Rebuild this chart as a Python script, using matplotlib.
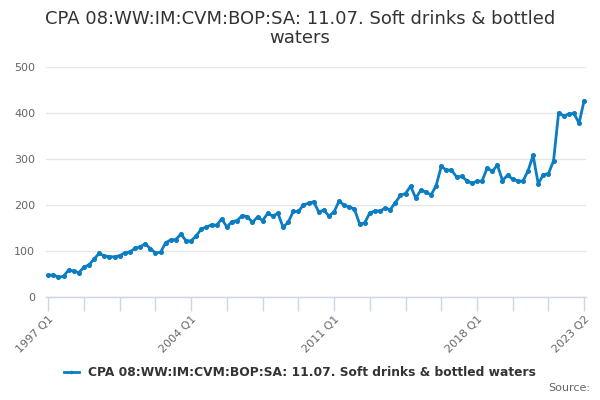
import numpy as np
import matplotlib
matplotlib.use('Agg')
import matplotlib.pyplot as plt

# quarterly values, 1997 Q1 .. 2023 Q2
values = [47, 48, 43, 45, 59, 56, 53, 65, 70, 83,
          95, 89, 88, 87, 90, 96, 98, 106, 109, 116,
          105, 96, 97, 118, 124, 125, 137, 122, 122, 133,
          148, 152, 157, 156, 170, 152, 164, 166, 177, 175,
          162, 174, 166, 182, 176, 182, 152, 162, 186, 186,
          200, 204, 207, 185, 189, 176, 185, 209, 199, 196,
          191, 159, 161, 183, 187, 187, 193, 190, 205, 221,
          225, 241, 215, 232, 228, 222, 242, 284, 276, 276,
          261, 262, 253, 247, 252, 252, 281, 273, 287, 253,
          265, 256, 252, 252, 274, 308, 246, 266, 268, 296,
          401, 393, 398, 399, 378, 427]

quarters = [f"{1997 + i // 4} Q{i % 4 + 1}" for i in range(len(values))]
label_idx = [0, 28, 56, 84, 105]
tick_idx = list(range(0, 105, 7)) + [105]
y_ticks = [0, 100, 200, 300, 400, 500]

series_name = 'CPA 08:WW:IM:CVM:BOP:SA: 11.07. Soft drinks & bottled waters'
line_color = '#0b7dc2'

fig = plt.figure(figsize=(6, 4), dpi=100)
ax = fig.add_axes([0.077, 0.2575, 0.9, 0.575])

x = np.arange(len(values))
ax.plot(x, values, color=line_color, linewidth=2, marker='o', markersize=2.6,
        label=series_name, zorder=3)

ax.set_xlim(-0.4, 105.4)
ax.set_ylim(0, 500)
ax.set_yticks(y_ticks)
ax.set_yticklabels([str(v) for v in y_ticks], color='#666666', fontsize=8)
ax.grid(axis='y', color='#e6e6e6', linewidth=1)
ax.set_axisbelow(True)

ax.set_xticks(tick_idx)
ax.set_xticklabels([quarters[i] if i in label_idx else '' for i in tick_idx],
                   rotation=45, ha='right', rotation_mode='anchor',
                   color='#666666', fontsize=8)
ax.tick_params(axis='x', length=10, color='#ccd6eb', width=1, pad=2)
ax.tick_params(axis='y', length=0, pad=8)

for side in ['top', 'right', 'left']:
    ax.spines[side].set_visible(False)
ax.spines['bottom'].set_color('#ccd6eb')
ax.spines['bottom'].set_linewidth(1)

fig.text(0.5, 0.975, 'CPA 08:WW:IM:CVM:BOP:SA: 11.07. Soft drinks & bottled\nwaters',
         ha='center', va='top', fontsize=13, color='#333333', linespacing=1.05)

fig.legend(loc='center', bbox_to_anchor=(0.5, 0.0675), frameon=False,
           prop={'weight': 'bold', 'size': 8.8}, handlelength=1.2,
           markerscale=0.6, labelcolor='#333333')

fig.text(0.983, 0.0175, 'Source:', ha='right', va='bottom', fontsize=8, color='#666666')

fig.savefig('out.png', dpi=100)
